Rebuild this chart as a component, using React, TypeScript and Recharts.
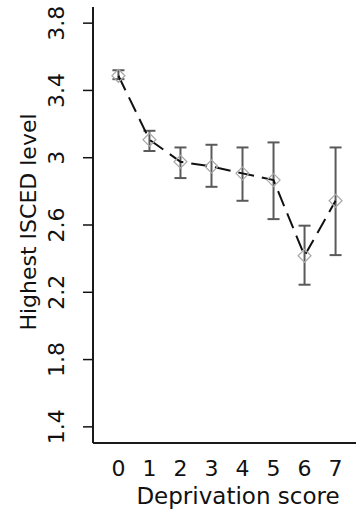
import React from 'react';
import { ComposedChart, Line, XAxis, YAxis, ErrorBar } from 'recharts';

// Deprivation score categories
const scores = [0, 1, 2, 3, 4, 5, 6, 7];
// Mean highest ISCED level per score
const means = [3.487, 3.107, 2.976, 2.948, 2.907, 2.867, 2.417, 2.744];
// Lower / upper ends of the interval bars
const lower = [3.467, 3.04, 2.879, 2.827, 2.744, 2.635, 2.245, 2.421];
const upper = [3.52, 3.16, 3.061, 3.077, 3.061, 3.091, 2.596, 3.061];
// Axis tick labels
const yTicks = [1.4, 1.8, 2.2, 2.6, 3, 3.4, 3.8];
const xTicks = [0, 1, 2, 3, 4, 5, 6, 7];

// R-style axis limits: 4% padding around the nominal range
const xLim: [number, number] = [-0.5 - 0.32, 7.5 + 0.32];
const yLim: [number, number] = [1.4 - 0.096, 3.8 + 0.096];

const data = scores.map((s, i) => ({
  score: s,
  mean: means[i],
  err: [means[i] - lower[i], upper[i] - means[i]],
}));

const FONT = '"DejaVu Sans", Verdana, sans-serif';
const FRAME = { stroke: '#1a1a1a', strokeWidth: 2 };

const Diamond = (props: any) => {
  const { cx, cy } = props;
  if (cx == null || cy == null) return null;
  const r = 6.5;
  return (
    <polygon
      points={`${cx},${cy - r} ${cx + r},${cy} ${cx},${cy + r} ${cx - r},${cy}`}
      fill="none"
      stroke="#a8a8a8"
      strokeWidth={1.2}
    />
  );
};

const YTick = (props: any) => {
  const { y, payload } = props;
  const bx = 64;
  return (
    <text
      x={bx}
      y={y}
      transform={`rotate(-90, ${bx}, ${y})`}
      textAnchor="middle"
      fontFamily={FONT}
      fontSize={22}
      fill="#111"
    >
      {String(payload.value)}
    </text>
  );
};

const XTick = (props: any) => {
  const { x, payload } = props;
  return (
    <text x={x} y={476} textAnchor="middle" fontFamily={FONT} fontSize={22} fill="#111">
      {String(payload.value)}
    </text>
  );
};

export default function App() {
  return (
    <div style={{ position: 'absolute', left: 0, top: 0, width: 356, height: 510, overflow: 'hidden', background: '#fff' }}>
      <ComposedChart width={420} height={510} data={data} margin={{ top: 7, right: 59, bottom: 0, left: 0 }}>
        <XAxis
          dataKey="score"
          type="number"
          domain={xLim}
          ticks={xTicks}
          allowDataOverflow
          axisLine={FRAME}
          tickLine={false}
          height={67}
          tick={<XTick />}
          interval={0}
          label={{
            content: () => (
              <text x={238} y={504} textAnchor="middle" fontFamily={FONT} fontSize={23} fill="#111">
                Deprivation score
              </text>
            ),
          }}
        />
        {/* top edge of the plot frame */}
        <XAxis
          xAxisId="top"
          orientation="top"
          dataKey="score"
          type="number"
          domain={xLim}
          allowDataOverflow
          axisLine={FRAME}
          tickLine={false}
          tick={false}
          height={0}
        />
        <YAxis
          type="number"
          domain={yLim}
          ticks={yTicks}
          allowDataOverflow
          width={93}
          axisLine={FRAME}
          tickLine={{ stroke: '#111', strokeWidth: 1.5 }}
          tickSize={10}
          tick={<YTick />}
          interval={0}
          label={{
            content: () => (
              <text
                x={36}
                y={222}
                transform="rotate(-90, 36, 222)"
                textAnchor="middle"
                fontFamily={FONT}
                fontSize={22}
                fill="#111"
              >
                Highest ISCED level
              </text>
            ),
          }}
        />
        <Line
          dataKey="mean"
          type="linear"
          stroke="#111"
          strokeWidth={2}
          strokeDasharray="16 8"
          dot={<Diamond />}
          activeDot={false}
          isAnimationActive={false}
        >
          <ErrorBar dataKey="err" direction="y" width={6} stroke="#5a5a5a" strokeWidth={2} />
        </Line>
      </ComposedChart>
    </div>
  );
}
